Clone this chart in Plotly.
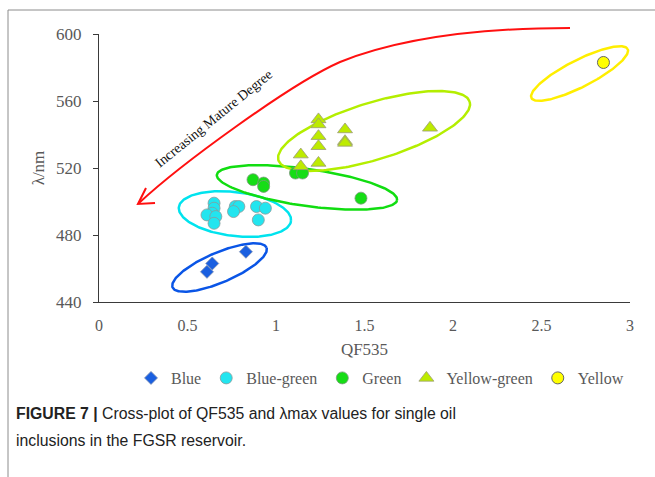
import numpy as np
import plotly.graph_objects as go

# ---------------- data ----------------
blue_x = [0.61, 0.64, 0.83]
blue_y = [458, 463, 470]

bluegreen_x = [0.65, 0.65, 0.64, 0.61, 0.66, 0.65, 0.77, 0.79, 0.76, 0.89, 0.94, 0.90]
bluegreen_y = [499, 496, 493, 492, 491, 487, 497, 497, 494, 497, 496, 489]

green_x = [0.87, 0.93, 0.93, 1.11, 1.15, 1.48]
green_y = [513, 511, 509, 517, 517, 502]

yg_x = [1.24, 1.24, 1.24, 1.24, 1.24, 1.39, 1.39, 1.39, 1.14, 1.14, 1.87]
yg_y = [549, 546, 539, 533, 523, 543, 536, 535, 528, 521, 544]

yellow_x = [2.85]
yellow_y = [583]

x_ticks = [0, 0.5, 1, 1.5, 2, 2.5, 3]
y_ticks = [440, 480, 520, 560, 600]

# ---------------- layout geometry ----------------
W, H = 655, 477
ML, MR, MT, MB = 99, 25, 34, 175
XR = [0, 3]
YR = [440, 600]
PW = W - ML - MR
PH = H - MT - MB
sx = PW / (XR[1] - XR[0])   # px per x unit
sy = PH / (YR[1] - YR[0])   # px per y unit


def px_to_paper(px, py):
    return (px - ML) / PW, (H - MB - py) / PH


SERIF = "Liberation Serif, Times New Roman, serif"
GRAY = "#595959"

fig = go.Figure()

# ---------------- ellipses (group outlines) ----------------
# center (data), semi-axes (px), angle (deg, screen), colour
ellipses = [
    (0.681, 460.6, 51, 15, 23, "#0A55E6"),
    (0.768, 492.5, 56.5, 22, -7, "#00E3EE"),
    (1.175, 508.4, 91, 18.5, -8, "#11DD11"),
    (1.554, 542.1, 100, 28.5, 17, "#B4EE00"),
    (2.715, 576.4, 54, 13.5, 27, "#FFEE00"),
]
t = np.linspace(0, 2 * np.pi, 200)
for cx, cy, a, b, ang, col in ellipses:
    th = np.radians(ang)
    dxp = a * np.cos(t) * np.cos(th) - b * np.sin(t) * np.sin(th)
    dyp = a * np.cos(t) * np.sin(th) + b * np.sin(t) * np.cos(th)
    fig.add_trace(go.Scatter(x=cx + dxp / sx, y=cy + dyp / sy, mode="lines",
                             line=dict(color=col, width=2.5), showlegend=False,
                             hoverinfo="skip"))

# ---------------- scatter series ----------------
fig.add_trace(go.Scatter(x=blue_x, y=blue_y, mode="markers", name="Blue",
                         marker=dict(symbol="diamond", size=10, color="#1A5FE0",
                                     line=dict(color="#7F8FB0", width=0.8))))
fig.add_trace(go.Scatter(x=bluegreen_x, y=bluegreen_y, mode="markers", name="Blue-green",
                         marker=dict(symbol="circle", size=12, color="#22E5EF",
                                     line=dict(color="#8A9A9A", width=0.8))))
fig.add_trace(go.Scatter(x=green_x, y=green_y, mode="markers", name="Green",
                         marker=dict(symbol="circle", size=12, color="#16DD16",
                                     line=dict(color="#7A9A7A", width=0.8))))
fig.add_trace(go.Scatter(x=yg_x, y=yg_y, mode="markers", name="Yellow-green",
                         marker=dict(symbol="triangle-up", size=13, color="#BDEB00",
                                     line=dict(color="#9A9A7A", width=0.8))))
fig.add_trace(go.Scatter(x=yellow_x, y=yellow_y, mode="markers", name="Yellow",
                         marker=dict(symbol="circle", size=12, color="#FFFF00",
                                     line=dict(color="#666666", width=1))))

# ---------------- red arrow (paper coords, drawn outside clip) ----------------
arrow_pts = [(570, 28), (480, 28), (400, 38), (340, 62), (290, 84), (180, 165), (139, 203)]
pp = [px_to_paper(*p) for p in arrow_pts]
path = "M {:.4f},{:.4f} C {:.4f},{:.4f} {:.4f},{:.4f} {:.4f},{:.4f} C {:.4f},{:.4f} {:.4f},{:.4f} {:.4f},{:.4f}".format(
    *[c for p in pp for c in p])
head = [px_to_paper(146, 188), px_to_paper(138, 204), px_to_paper(155, 203)]
head_path = "M {:.4f},{:.4f} L {:.4f},{:.4f} L {:.4f},{:.4f}".format(*[c for p in head for c in p])

shapes = [
    dict(type="path", path=path, xref="paper", yref="paper", line=dict(color="#FF1010", width=2)),
    dict(type="path", path=head_path, xref="paper", yref="paper", line=dict(color="#FF1010", width=2)),
]
# figure frame lines
fl_x, fl_y0 = px_to_paper(8, 10)
_, fl_y1 = px_to_paper(8, 477)
fr_x, _ = px_to_paper(655, 10)
shapes.append(dict(type="line", xref="paper", yref="paper", x0=fl_x, x1=fl_x, y0=fl_y0, y1=fl_y1,
                   line=dict(color="#8C8C8C", width=1)))
shapes.append(dict(type="line", xref="paper", yref="paper", x0=fl_x, x1=fr_x, y0=fl_y0, y1=fl_y0,
                   line=dict(color="#8C8C8C", width=1)))

annotations = []
tx, ty = px_to_paper(214, 119)
annotations.append(dict(x=tx, y=ty, xref="paper", yref="paper", xanchor="center", yanchor="middle",
                        text="Increasing Mature Degree",
                        showarrow=False, textangle=-39,
                        font=dict(family=SERIF, size=14, color="#111111")))
CAP = "Liberation Sans, Arial, sans-serif"
cx1, cy1 = px_to_paper(14, 413)
annotations.append(dict(x=cx1, y=cy1, xref="paper", yref="paper", xanchor="left", yanchor="middle",
                        text="<b>FIGURE 7 |</b> Cross-plot of QF535 and λmax values for single oil",
                        showarrow=False, font=dict(family=CAP, size=15.8, color="#222222")))
cx2, cy2 = px_to_paper(14, 440)
annotations.append(dict(x=cx2, y=cy2, xref="paper", yref="paper", xanchor="left", yanchor="middle",
                        text="inclusions in the FGSR reservoir.",
                        showarrow=False, font=dict(family=CAP, size=15.8, color="#222222")))

lx, ly = px_to_paper(380, 378)

fig.update_layout(
    width=W, height=H,
    margin=dict(l=ML, r=MR, t=MT, b=MB, pad=0, autoexpand=False),
    paper_bgcolor="white", plot_bgcolor="white",
    font=dict(family=SERIF, size=16, color=GRAY),
    xaxis=dict(range=XR, tickvals=x_ticks, ticktext=[f"{v:g}" for v in x_ticks],
               showgrid=False, zeroline=False, showline=True, linecolor="#3A3A3A", linewidth=1.2,
               ticks="", ticklabelstandoff=9, tickfont=dict(family=SERIF, size=16, color=GRAY),
               title=dict(text="QF535", font=dict(family=SERIF, size=17, color=GRAY), standoff=9)),
    yaxis=dict(range=YR, tickvals=y_ticks, showgrid=False, zeroline=False, showline=True,
               linecolor="#3A3A3A", linewidth=1.2, ticks="outside", ticklen=5, tickcolor="#3A3A3A",
               ticklabelstandoff=8,
               tickfont=dict(family=SERIF, size=17, color=GRAY),
               title=dict(text="λ/nm", font=dict(family=SERIF, size=17, color=GRAY), standoff=7)),
    legend=dict(orientation="h", x=lx, y=ly, xanchor="center", yanchor="middle",
                font=dict(family=SERIF, size=16, color=GRAY), itemwidth=30, tracegroupgap=0,
                bgcolor="rgba(0,0,0,0)"),
    shapes=shapes, annotations=annotations,
)

fig.write_html("out.html", config={"displayModeBar": False},
               post_script="document.body.style.margin='0';")
